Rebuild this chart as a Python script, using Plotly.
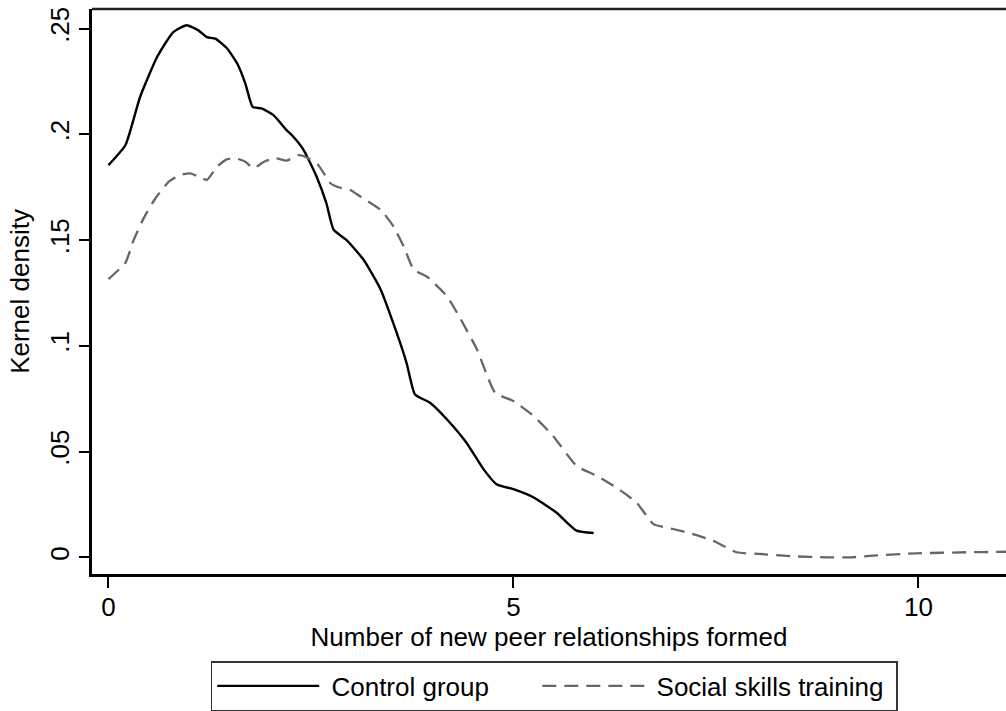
import plotly.graph_objects as go

control_x = [0, 0.21, 0.39, 0.60, 0.80, 0.965, 1.11, 1.215, 1.32, 1.465, 1.59, 1.69, 1.78, 1.89, 2.04, 2.2, 2.28, 2.41,
             2.57, 2.69, 2.78, 2.94, 3.15, 3.36, 3.56, 3.68, 3.785, 3.97, 4.18, 4.42, 4.63, 4.79, 5.0, 5.25, 5.53, 5.78, 5.99]
control_y = [0.1855, 0.195, 0.2177, 0.2366, 0.2484, 0.2516, 0.2492, 0.246, 0.2453, 0.2406, 0.2335, 0.224, 0.213, 0.2123,
             0.209, 0.202, 0.199, 0.1926, 0.18, 0.1675, 0.1549, 0.150, 0.1407, 0.1267, 0.106, 0.092, 0.077, 0.0731, 0.0652,
             0.0542, 0.0417, 0.0346, 0.0322, 0.0283, 0.0212, 0.0126, 0.0115]

social_x = [0, 0.21, 0.31, 0.435, 0.58, 0.745, 0.885, 1.01, 1.13, 1.215, 1.34, 1.46, 1.565, 1.69, 1.79, 1.92, 2.06, 2.2,
            2.345, 2.45, 2.59, 2.74, 2.84, 2.985, 3.11, 3.36, 3.52, 3.645, 3.77, 3.93, 4.18, 4.34, 4.55, 4.775, 5.0, 5.25,
            5.49, 5.78, 6.03, 6.27, 6.52, 6.73, 6.97, 7.22, 7.47, 7.755, 8.04, 8.45, 8.87, 9.17, 9.44, 9.98, 10.6, 11.0, 11.2]
social_y = [0.1316, 0.1394, 0.150, 0.1604, 0.1698, 0.1777, 0.1808, 0.1816, 0.1797, 0.1785, 0.1847, 0.1882, 0.1887, 0.1871,
            0.184, 0.1871, 0.1887, 0.1876, 0.1902, 0.1891, 0.1855, 0.1769, 0.175, 0.1737, 0.1706, 0.1643, 0.1564, 0.147,
            0.136, 0.1328, 0.1234, 0.1132, 0.0983, 0.0778, 0.0739, 0.0668, 0.0574, 0.0432, 0.0385, 0.033, 0.0259, 0.0157,
            0.0134, 0.011, 0.0078, 0.0024, 0.0016, 0.0005, 0.0, 0.0, 0.0008, 0.0019, 0.0024, 0.0026, 0.0027]

x_ticks = [0, 5, 10]
x_tick_labels = ["0", "5", "10"]
y_ticks = [0, 0.05, 0.1, 0.15, 0.2, 0.25]
y_tick_labels = ["0", ".05", ".1", ".15", ".2", ".25"]

FONT = "Liberation Sans, Arial, sans-serif"
NB = "\u00a0"

fig = go.Figure()
fig.add_trace(go.Scatter(x=control_x, y=control_y, mode="lines", name=NB + "Control group" + NB * 6,
                         line=dict(color="#000000", width=2.4, shape="spline", smoothing=0.5)))
fig.add_trace(go.Scatter(x=social_x, y=social_y, mode="lines", name=NB + "Social skills training" + NB,
                         line=dict(color="#666666", width=2.3, dash="14px,8px", shape="spline", smoothing=0.5)))

fig.update_layout(
    width=1006, height=711,
    margin=dict(l=91.5, r=0, t=8.5, b=136),
    paper_bgcolor="white", plot_bgcolor="white",
    font=dict(family=FONT, size=26, color="#000000"),
    showlegend=True,
    legend=dict(orientation="h", x=0.5057, xanchor="center", y=-0.1536, yanchor="top",
                bordercolor="#333333", borderwidth=1.5, font=dict(size=26),
                itemwidth=102, tracegroupgap=0),
    xaxis=dict(range=[-0.2036, 11.082], tickvals=x_ticks, ticktext=x_tick_labels,
               showline=True, linecolor="#000000", linewidth=2.5, ticks="outside", ticklen=11,
               tickwidth=1.5, tickcolor="#000000", showgrid=False, zeroline=False,
               ticklabelstandoff=-3,
               title=dict(text="Number of new peer relationships formed", standoff=2,
                          font=dict(size=26)),
               tickfont=dict(size=26)),
    yaxis=dict(range=[-0.00788, 0.2593], tickvals=y_ticks, ticktext=y_tick_labels,
               showline=True, linecolor="#000000", linewidth=2.5, ticks="outside", ticklen=10,
               tickwidth=1.5, tickcolor="#000000", showgrid=False, zeroline=False,
               tickangle=-90, title=dict(text="Kernel density", standoff=8, font=dict(size=26)),
               tickfont=dict(size=26)),
    shapes=[dict(type="line", xref="paper", yref="paper", x0=0, x1=1, y0=1, y1=1,
                 line=dict(color="#222222", width=2.5))],
)

fig.write_html("out.html")
